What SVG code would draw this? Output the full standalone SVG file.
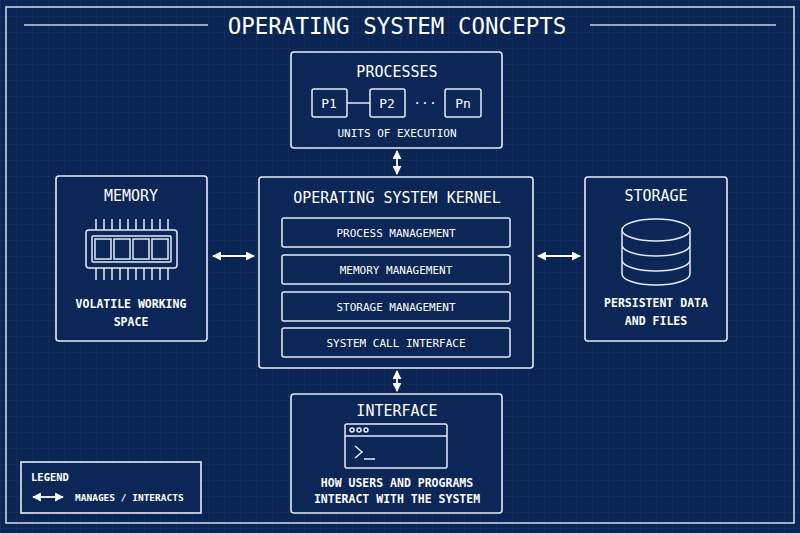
<svg xmlns="http://www.w3.org/2000/svg" width="800" height="533" viewBox="0 0 800 533">
<defs>
<pattern id="g" width="16" height="16" patternUnits="userSpaceOnUse"><path d="M16 0H0V16" fill="none" stroke="#1f3d70" stroke-width="0.6"/></pattern>
<marker id="a" viewBox="0 0 10 10" refX="9" refY="5" markerWidth="5" markerHeight="5" orient="auto-start-reverse"><path d="M0 0L10 5L0 10z" fill="#fff"/></marker>
<style>
.b{fill:#0b2657;stroke:#e6ebf5;stroke-width:1.6}
.s{fill:none;stroke:#e6ebf5;stroke-width:1.5}
text{font-family:"DejaVu Sans Mono","Liberation Mono",monospace;fill:#fff;text-anchor:middle}
.t{font-size:15px}
.c{font-size:11px}
.cb{font-size:11.5px;font-weight:bold}
.k{stroke:#fff;stroke-width:1.8;fill:none;marker-start:url(#a);marker-end:url(#a)}
</style>
</defs>
<rect width="800" height="533" fill="#0a2454"/>
<rect width="800" height="533" fill="url(#g)"/>
<rect x="6" y="7" width="788" height="516" fill="none" stroke="#c9d2e6" stroke-width="1.6"/>
<line x1="24" y1="25" x2="208" y2="25" stroke="#c9d2e6" stroke-width="1.5"/>
<line x1="590" y1="25" x2="776" y2="25" stroke="#c9d2e6" stroke-width="1.5"/>
<text x="397" y="34" style="font-size:22.5px">OPERATING SYSTEM CONCEPTS</text>

<g id="processes">
<rect class="b" x="291" y="52" width="211" height="96" rx="3"/>
<text class="t" x="397" y="77">PROCESSES</text>
<rect class="s" x="312" y="89" width="35" height="28" rx="2"/>
<rect class="s" x="370" y="89" width="35" height="28" rx="2"/>
<rect class="s" x="445" y="89" width="36" height="28" rx="2"/>
<line class="s" x1="347" y1="103" x2="370" y2="103"/>
<text x="329" y="108" style="font-size:13px">P1</text>
<text x="387" y="108" style="font-size:13px">P2</text>
<text x="425" y="107" style="font-size:13px">···</text>
<text x="463" y="108" style="font-size:13px">Pn</text>
<text class="c" x="397" y="137">UNITS OF EXECUTION</text>
</g>

<g id="kernel">
<rect class="b" x="259" y="177" width="274" height="191" rx="3"/>
<text class="t" x="397" y="203">OPERATING SYSTEM KERNEL</text>
<rect class="s" x="282" y="218" width="228" height="29" rx="2"/>
<rect class="s" x="282" y="255" width="228" height="29" rx="2"/>
<rect class="s" x="282" y="292" width="228" height="29" rx="2"/>
<rect class="s" x="282" y="328" width="228" height="29" rx="2"/>
<text class="c" x="396" y="237">PROCESS MANAGEMENT</text>
<text class="c" x="396" y="274">MEMORY MANAGEMENT</text>
<text class="c" x="396" y="311">STORAGE MANAGEMENT</text>
<text class="c" x="396" y="347">SYSTEM CALL INTERFACE</text>
</g>

<g id="memory">
<rect class="b" x="56" y="176" width="151" height="165" rx="3"/>
<text class="t" x="131" y="201">MEMORY</text>
<rect class="s" x="86" y="230" width="91" height="38" rx="3"/>
<rect class="s" x="92" y="236" width="79" height="26" rx="1"/>
<rect class="s" x="95" y="239" width="16" height="20"/>
<rect class="s" x="114" y="239" width="16" height="20"/>
<rect class="s" x="133" y="239" width="16" height="20"/>
<rect class="s" x="152" y="239" width="16" height="20"/>
<path class="s" stroke-width="1" d="M96 219V230M104 219V230M112 219V230M120 219V230M128 219V230M136 219V230M144 219V230M152 219V230M160 219V230M168 219V230M96 268V280M104 268V280M112 268V280M120 268V280M128 268V280M136 268V280M144 268V280M152 268V280M160 268V280M168 268V280"/>
<text class="cb" x="131" y="308">VOLATILE WORKING</text>
<text class="cb" x="131" y="326">SPACE</text>
</g>

<g id="storage">
<rect class="b" x="585" y="177" width="142" height="164" rx="3"/>
<text class="t" x="656" y="201">STORAGE</text>
<path class="s" d="M622 230V274A34 11 0 0 0 690 274V230M622 245A34 11 0 0 0 690 245M622 260A34 11 0 0 0 690 260"/>
<ellipse class="s" cx="656" cy="230" rx="34" ry="11"/>
<text class="cb" x="656" y="307">PERSISTENT DATA</text>
<text class="cb" x="656" y="325">AND FILES</text>
</g>

<g id="interface">
<rect class="b" x="291" y="394" width="211" height="119" rx="3"/>
<text class="t" x="397" y="416">INTERFACE</text>
<rect class="s" x="345" y="424" width="102" height="44" rx="2"/>
<line class="s" x1="345" y1="436" x2="447" y2="436"/>
<circle class="s" stroke-width="1" cx="352" cy="430" r="2"/>
<circle class="s" stroke-width="1" cx="359" cy="430" r="2"/>
<circle class="s" stroke-width="1" cx="366" cy="430" r="2"/>
<path class="s" d="M355 446L362 452L355 458M364 459H375"/>
<text class="cb" x="397" y="487">HOW USERS AND PROGRAMS</text>
<text class="cb" x="397" y="503">INTERACT WITH THE SYSTEM</text>
</g>

<g id="legend">
<rect class="b" x="21" y="462" width="180" height="51"/>
<text x="31" y="481" style="font-size:10.5px;font-weight:bold;text-anchor:start">LEGEND</text>
<line class="k" x1="33" y1="497" x2="63" y2="497"/>
<text x="75" y="501" style="font-size:9.5px;font-weight:bold;text-anchor:start">MANAGES / INTERACTS</text>
</g>

<g id="connectors">
<line class="k" x1="397" y1="151" x2="397" y2="174"/>
<line class="k" x1="213" y1="256" x2="254" y2="256"/>
<line class="k" x1="538" y1="256" x2="580" y2="256"/>
<line class="k" x1="397" y1="371" x2="397" y2="391"/>
</g>
</svg>
